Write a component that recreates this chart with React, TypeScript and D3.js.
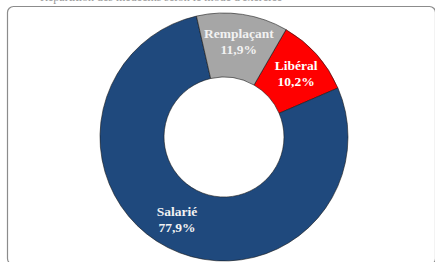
import * as d3 from "d3";
import {useEffect, useRef} from "react";

// slice data, in drawing order (clockwise from the first angle)
const categories = ["Libéral", "Salarié", "Remplaçant"];
const shares = [10.2, 77.9, 11.9];
const shareLabels = ["10,2%", "77,9%", "11,9%"];
const colors = ["#FF0000", "#1F497D", "#A6A6A6"];
const textColors = ["#FFFFFF", "#F2F2F2", "#F2F2F2"];

export default function App() {
    const ref = useRef<SVGSVGElement>(null);

    useEffect(() => {
        const width = 435;
        const height = 262;
        const svg = d3.select(ref.current);
        svg.attr("width", width).attr("height", height);
        svg.selectAll("*").remove();

        // title cut off by the top of the picture
        svg.append("text")
            .attr("x", 40).attr("y", 0.8)
            .attr("font-family", "Liberation Serif")
            .attr("font-size", 12)
            .attr("fill", "#999")
            .text("Répartition des médecins selon le mode d'exercice");

        // rounded frame
        svg.append("rect")
            .attr("x", 7.5).attr("y", 6.5)
            .attr("width", 428).attr("height", 258)
            .attr("rx", 6)
            .attr("fill", "white")
            .attr("stroke", "#8c8c8c")
            .attr("stroke-width", 1.2);

        const cx = 224, cy = 137;
        const outerR = 124, innerR = 60;

        const data = categories.map((c, i) => ({name: c, value: shares[i], label: shareLabels[i], i}));
        const pie = d3.pie<any>().sort(null).value(d => d.value)
            .startAngle(30 * Math.PI / 180)
            .endAngle(30 * Math.PI / 180 + 2 * Math.PI);
        const arcs = pie(data);
        const arc = d3.arc<any>().innerRadius(innerR).outerRadius(outerR);
        const labelArc = d3.arc<any>().innerRadius(outerR * 0.8).outerRadius(outerR * 0.8);

        const g = svg.append("g").attr("transform", `translate(${cx},${cy})`);
        g.selectAll("path").data(arcs).join("path")
            .attr("d", arc)
            .attr("fill", d => colors[d.data.i])
            .attr("stroke", "#1a1a1a")
            .attr("stroke-width", 0.6);

        // label positions nudged to where the original places them
        const offsets: Record<string, [number, number]> = {
            "Libéral": [-2, 3],
            "Salarié": [-2, -5],
            "Remplaçant": [0, 3],
        };
        const labels = g.selectAll("g.lbl").data(arcs).join("g")
            .attr("class", "lbl")
            .attr("transform", d => {
                const [x, y] = labelArc.centroid(d);
                const o = offsets[d.data.name];
                return `translate(${x + o[0]},${y + o[1]})`;
            });
        labels.append("text")
            .attr("text-anchor", "middle")
            .attr("y", -4)
            .attr("font-family", "Liberation Serif")
            .attr("font-weight", "bold")
            .attr("font-size", 13.5)
            .attr("fill", d => textColors[d.data.i])
            .text(d => d.data.name);
        labels.append("text")
            .attr("text-anchor", "middle")
            .attr("y", 12)
            .attr("font-family", "Liberation Serif")
            .attr("font-weight", "bold")
            .attr("font-size", 13.5)
            .attr("fill", d => textColors[d.data.i])
            .text(d => d.data.label);
    }, []);

    return <svg ref={ref} style={{position: "absolute", left: 0, top: 0}}></svg>;
}
